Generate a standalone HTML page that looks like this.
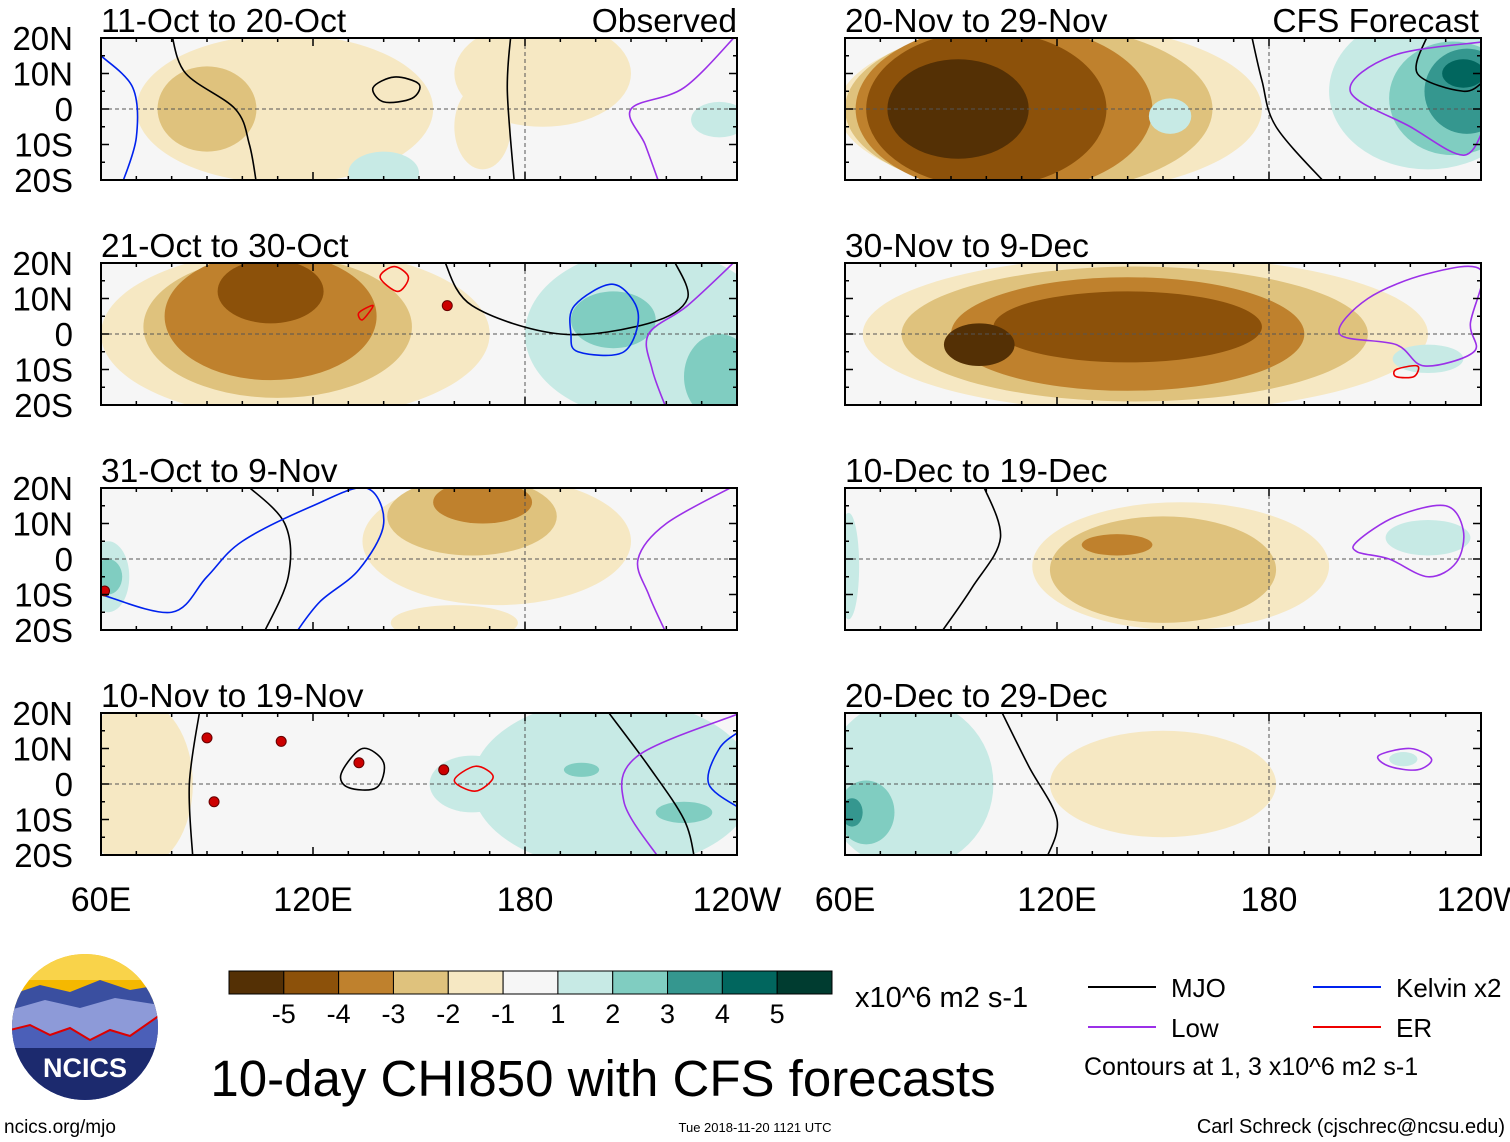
<!DOCTYPE html>
<html><head><meta charset="utf-8"><style>
html,body{margin:0;padding:0;background:#fff}
svg{display:block;font-family:"Liberation Sans",Arial,sans-serif}
</style></head><body>
<svg id="chart" width="1510" height="1142" viewBox="0 0 1510 1142" xmlns="http://www.w3.org/2000/svg"></svg>
<script>
// ---- data ----
const panelTitles = ["11-Oct to 20-Oct","21-Oct to 30-Oct","31-Oct to 9-Nov","10-Nov to 19-Nov","20-Nov to 29-Nov","30-Nov to 9-Dec","10-Dec to 19-Dec","20-Dec to 29-Dec"];
const levelColors = ["#543005","#8c510a","#bf812d","#dfc27d","#f6e8c3","#f6f6f6","#c7eae5","#80cdc1","#35978f","#01665e","#003c30"];
const levelLabels = ["-5","-4","-3","-2","-1","1","2","3","4","5"];
const latTicks = ["20N","10N","0","10S","20S"];
const lonTicks = ["60E","120E","180","120W"];
// blobs: [lon, lat, rx(deg), ry(deg), level index]
const blobs = [
 [[112,0,42,21,4],[90,0,14,12,3],[185,10,25,15,4],[168,-5,8,12,4],[140,-18,10,6,6],[235,-3,8,5,6]],
 [[115,0,55,24,4],[110,2,38,20,3],[108,5,30,18,2],[108,12,15,9,1],[215,0,35,24,6],[205,4,12,8,7],[235,-12,10,12,7]],
 [[172,5,38,18,4],[165,12,24,11,3],[168,16,14,6,2],[160,-18,18,5,4],[62,-5,6,10,6],[62,-5,4,5,7]],
 [[70,0,16,24,4],[205,0,40,24,6],[165,0,12,8,6],[225,-8,8,3,7],[196,4,5,2,7]],
 [[118,0,60,24,4],[112,0,52,24,3],[105,0,42,24,2],[100,0,34,22,1],[92,0,20,14,0],[225,5,28,22,6],[232,3,18,16,7],[236,5,12,12,8],[235,10,6,4,9],[152,-2,6,5,6]],
 [[145,0,80,22,4],[142,0,66,19,3],[140,0,50,16,2],[140,2,38,10,1],[98,-3,10,6,0],[225,-7,10,4,6]],
 [[155,-2,42,18,4],[150,-3,32,15,3],[137,4,10,3,2],[225,6,12,5,6],[61,-2,3,15,6]],
 [[78,0,24,24,6],[66,-8,8,9,7],[62,-8,3,4,8],[150,0,32,15,4],[218,7,4,2,6]]
];
// contours: [type, closed, points [lon,lat]...]
const contours = [
 [["mjo",0,[[80,21],[84,10],[98,0],[102,-10],[104,-21]]],["mjo",0,[[176,21],[175,5],[177,-21]]],["mjo",1,[[137,6],[143,9],[150,7],[148,3],[140,2]]],["kelvin",0,[[60,15],[69,6],[70,-8],[66,-21]]],["low",0,[[240,21],[225,6],[210,0],[214,-10],[218,-21]]]],
 [["er",1,[[139,16],[143,19],[147,16],[144,12]]],["er",1,[[133,6],[137,8],[134,4]]],["mjo",0,[[157,21],[165,8],[190,0],[215,3],[226,10],[222,21]]],["kelvin",1,[[194,8],[205,14],[212,6],[208,-5],[195,-5],[193,0]]],["low",0,[[240,21],[226,8],[215,0],[216,-10],[220,-21]]]],
 [["mjo",0,[[101,21],[112,10],[113,-5],[106,-21]]],["kelvin",0,[[60,-10],[80,-15],[90,-5],[100,5],[120,15],[135,20],[140,10],[133,-3],[122,-12],[115,-21]]],["low",0,[[240,21],[220,10],[212,0],[215,-10],[220,-21]]]],
 [["mjo",0,[[88,21],[85,0],[86,-21]]],["mjo",1,[[128,3],[134,10],[140,6],[138,-1],[130,-1]]],["mjo",0,[[203,21],[215,5],[225,-10],[228,-21]]],["low",0,[[241,20],[212,8],[208,-5],[218,-21]]],["kelvin",0,[[241,15],[235,10],[232,0],[241,-7]]],["er",1,[[160,1],[166,5],[171,2],[166,-2]]]],
 [["mjo",0,[[175,21],[178,8],[182,-5],[196,-21]]],["mjo",0,[[225,21],[222,10],[235,5],[241,8]]],["low",0,[[241,19],[215,15],[203,5],[220,-5],[235,-13],[241,-5]]]],
 [["low",1,[[200,0],[208,10],[225,17],[240,18],[237,3],[238,-5],[224,-9],[216,-3]]],["er",1,[[216,-10],[222,-9],[221,-12],[216,-12]]]],
 [["mjo",0,[[99,21],[104,6],[96,-8],[87,-21]]],["low",1,[[205,5],[216,12],[230,15],[235,8],[233,-1],[225,-5],[214,0],[205,2]]]],
 [["mjo",0,[[104,21],[112,5],[120,-10],[117,-21]]],["low",1,[[211,8],[220,10],[226,7],[222,4],[214,5]]]]
];
// cyclone markers [lon,lat]
const storms = [[],[[158,8]],[[61,-9]],[[90,13],[111,12],[92,-5],[133,6],[157,4]],[],[],[],[]];

// ---- layout ----
const NS="http://www.w3.org/2000/svg";
const svg=document.getElementById('chart');
const colX=[101,845], rowY=[38,263,488,713], PW=636, PH=142;
const colorOf={mjo:"#000",low:"#9b30e8",kelvin:"#0022ee",er:"#ee0000"};
function mk(tag,attrs,parent){const e=document.createElementNS(NS,tag);for(const k in attrs)e.setAttribute(k,attrs[k]);(parent||svg).appendChild(e);return e;}
function xs(lon,c){return colX[c]+(lon-60)*PW/180;}
function ys(lat,r){return rowY[r]+(20-lat)*PH/40;}
function smooth(pts,closed){
 const n=pts.length;let d="M"+pts[0][0]+","+pts[0][1];
 const get=i=>closed?pts[(i+n)%n]:pts[Math.max(0,Math.min(n-1,i))];
 const m=closed?n:n-1;
 for(let i=0;i<m;i++){const p0=get(i-1),p1=get(i),p2=get(i+1),p3=get(i+2);
  d+=` C${p1[0]+(p2[0]-p0[0])/6},${p1[1]+(p2[1]-p0[1])/6} ${p2[0]-(p3[0]-p1[0])/6},${p2[1]-(p3[1]-p1[1])/6} ${p2[0]},${p2[1]}`;}
 return d+(closed?"Z":"");
}
const defs=mk('defs',{});
for(let p=0;p<8;p++){
 const c=p<4?0:1, r=p%4;
 const cp=mk('clipPath',{id:'clip'+p},defs);
 mk('rect',{x:colX[c],y:rowY[r],width:PW,height:PH},cp);
 const g=mk('g',{'clip-path':'url(#clip'+p+')'});
 
 
 mk('rect',{x:colX[c],y:rowY[r],width:PW,height:PH,fill:levelColors[5]},g);
 blobs[p].forEach(b=>{
  const e=mk('ellipse',{cx:xs(b[0],c),cy:ys(b[1],r),rx:b[2]*PW/180,ry:b[3]*PH/40,fill:levelColors[b[4]]},g);
  
  
 });
 mk('line',{x1:colX[c],x2:colX[c]+PW,y1:ys(0,r),y2:ys(0,r),stroke:"#555","stroke-width":1,"stroke-dasharray":"4,3"},g);
 mk('line',{x1:xs(180,c),x2:xs(180,c),y1:rowY[r],y2:rowY[r]+PH,stroke:"#555","stroke-width":1,"stroke-dasharray":"4,3"},g);
 contours[p].forEach(ct=>{
  const pts=ct[2].map(q=>[xs(q[0],c),ys(q[1],r)]);
  const e=mk('path',{d:smooth(pts,ct[1]),fill:"none",stroke:colorOf[ct[0]],"stroke-width":1.6},g);
  
  
 });
 storms[p].forEach(s=>{
  const e=mk('circle',{cx:xs(s[0],c),cy:ys(s[1],r),r:5,fill:"#c00",stroke:"#600","stroke-width":1},g);
  
  
 });
 const fr=mk('rect',{x:colX[c],y:rowY[r],width:PW,height:PH,fill:"none",stroke:"#000","stroke-width":2});
 
 
 for(let lon=60;lon<=240;lon+=10){const L=lon%60==0?8:4;
  mk('line',{x1:xs(lon,c),x2:xs(lon,c),y1:rowY[r],y2:rowY[r]+L,stroke:"#000","stroke-width":1.5});
  mk('line',{x1:xs(lon,c),x2:xs(lon,c),y1:rowY[r]+PH,y2:rowY[r]+PH-L,stroke:"#000","stroke-width":1.5});}
 for(let lat=-20;lat<=20;lat+=5){const L=lat%10==0?8:4;
  mk('line',{x1:colX[c],x2:colX[c]+L,y1:ys(lat,r),y2:ys(lat,r),stroke:"#000","stroke-width":1.5});
  mk('line',{x1:colX[c]+PW,x2:colX[c]+PW-L,y1:ys(lat,r),y2:ys(lat,r),stroke:"#000","stroke-width":1.5});}
 const t=mk('text',{x:colX[c],y:rowY[r]-6,"font-size":33.5});
 t.textContent=panelTitles[p];
 
 
 if(c==0){latTicks.forEach((lb,i)=>{const tt=mk('text',{x:73,y:ys(20-i*10,r)+12,"font-size":33,"text-anchor":"end"});tt.textContent=lb;
  
  });}
}
[["Observed",737],["CFS Forecast",1479]].forEach(a=>{const t=mk('text',{x:a[1],y:32,"font-size":33.5,"text-anchor":"end"});t.textContent=a[0];
 
 });
for(let c=0;c<2;c++)lonTicks.forEach((lb,i)=>{const t=mk('text',{x:xs(60+i*60,c),y:911,"font-size":34,"text-anchor":"middle"});t.textContent=lb;
 
 });
const cbx=229,cbw=603/11;
levelColors.forEach((col,i)=>{const e=mk('rect',{x:cbx+i*cbw,y:971,width:cbw,height:23,fill:col,stroke:"#000","stroke-width":1});
 
 });
levelLabels.forEach((lb,i)=>{const t=mk('text',{x:cbx+(i+1)*cbw,y:1023,"font-size":27,"text-anchor":"middle"});t.textContent=lb;
 
 });
function txt(s,x,y,fs,anchor,name,extra){const t=mk('text',Object.assign({x:x,y:y,"font-size":fs,"text-anchor":anchor||"start"},extra||{}));t.textContent=s;
 
 return t;}
txt("x10^6 m2 s-1",855,1007,29,"start","colorbar-units");
txt("10-day CHI850 with CFS forecasts",603,1096,51,"middle","chart-title");
[["MJO","mjo",1088,987],["Low","low",1088,1027],["Kelvin x2","kelvin",1313,987],["ER","er",1313,1027]].forEach(l=>{
 mk('line',{x1:l[2],x2:l[2]+68,y1:l[3],y2:l[3],stroke:colorOf[l[1]],"stroke-width":2});
 txt(l[0],l[2]+83,l[3]+10,26,"start","legend-entry");});
txt("Contours at 1, 3 x10^6 m2 s-1",1084,1075,25,"start","contour-note");
txt("Carl Schreck (cjschrec@ncsu.edu)",1505,1133,20,"end","author-credit");
txt("ncics.org/mjo",4,1133,19,"start","source-url");
txt("Tue 2018-11-20 1121 UTC",755,1132,13,"middle","timestamp");
const lg=mk('g',{});


const lc=mk('clipPath',{id:'logoclip'},defs);mk('circle',{cx:85,cy:1027,r:73},lc);
const li=mk('g',{'clip-path':'url(#logoclip)'},lg);
mk('rect',{x:10,y:950,width:150,height:160,fill:"#f5b800"},li);
mk('rect',{x:10,y:950,width:150,height:30,fill:"#f9d34a"},li);
mk('path',{d:"M10,995 L40,985 L70,992 L100,980 L130,990 L160,985 L160,1110 L10,1110Z",fill:"#3a4fa0"},li);
mk('path',{d:"M10,1010 L45,1000 L80,1008 L115,998 L160,1005 L160,1110 L10,1110Z",fill:"#8d9ad8"},li);
mk('path',{d:"M10,1030 L30,1025 L50,1035 L70,1028 L90,1040 L110,1030 L130,1036 L160,1015 L160,1110 L10,1110Z",fill:"#4b5fb8"},li);
mk('path',{d:"M10,1030 L30,1025 L50,1035 L70,1028 L90,1040 L110,1030 L130,1036 L160,1015",fill:"none",stroke:"#d00","stroke-width":2},li);
mk('rect',{x:10,y:1048,width:150,height:70,fill:"#1c2a6e"},li);
txt("NCICS",85,1077,27,"middle","logo-text",{fill:"#fff","font-weight":"bold"});
</script>
</body></html>
